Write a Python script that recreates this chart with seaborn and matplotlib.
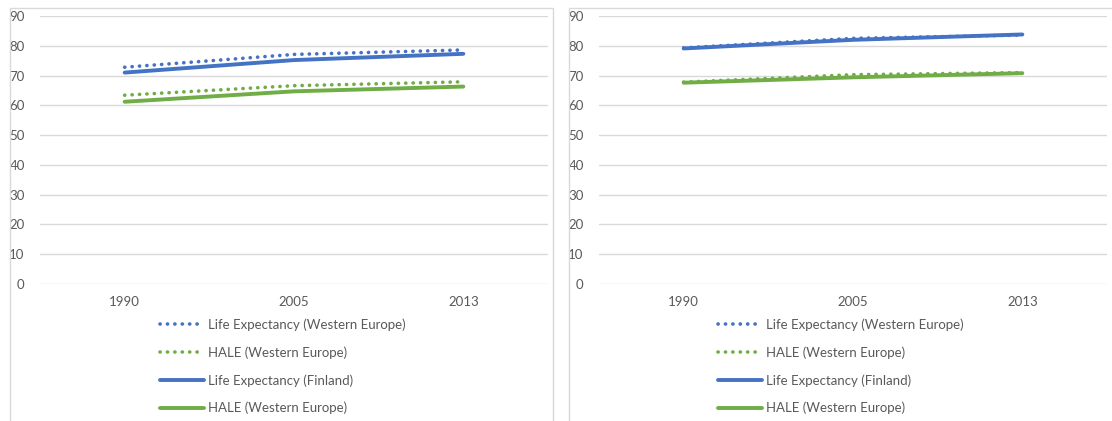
import matplotlib
matplotlib.use("Agg")
import matplotlib.pyplot as plt
from matplotlib.patches import Rectangle
from matplotlib.lines import Line2D
import pandas as pd
import seaborn as sns

# Data
years = ["1990", "2005", "2013"]
series_names = [
    "Life Expectancy (Western Europe)",
    "HALE (Western Europe)",
    "Life Expectancy (Finland)",
    "HALE (Western Europe)",
]
# Left panel
left_le_we = [72.8, 77.1, 78.6]
left_hale_we_dotted = [63.4, 66.6, 67.9]
left_le_fin = [71.0, 75.2, 77.3]
left_hale_solid = [61.2, 64.7, 66.3]
# Right panel
right_le_we = [79.3, 82.5, 83.6]
right_hale_we_dotted = [67.8, 70.3, 71.0]
right_le_fin = [79.1, 82.0, 83.8]
right_hale_solid = [67.6, 69.4, 70.8]

y_ticks = [0, 10, 20, 30, 40, 50, 60, 70, 80, 90]

BLUE = "#4472C4"
GREEN = "#70AD47"
GRID = "#D9D9D9"
TEXT = "#595959"

sns.set_theme(style="white")
plt.rcParams["font.family"] = ["Lato", "DejaVu Sans"]
plt.rcParams["font.size"] = 9

W, H = 1112, 421
fig = plt.figure(figsize=(W / 100, H / 100), dpi=100)

dot_style = (0, (0.05, 2.0))
styles = [
    dict(color=BLUE, ls=dot_style, lw=2.6),
    dict(color=GREEN, ls=dot_style, lw=2.6),
    dict(color=BLUE, ls="-", lw=2.8),
    dict(color=GREEN, ls="-", lw=2.8),
]


def px_box(x0, y0, x1, y1):
    return [x0 / W, 1 - y1 / H, (x1 - x0) / W, (y1 - y0) / H]


def draw_panel(frame, axbox, legend_xy, values):
    # panel frame
    fx0, fy0, fx1, fy1 = frame
    fig.patches.append(Rectangle((fx0 / W, 1 - fy1 / H), (fx1 - fx0) / W, (fy1 - fy0) / H,
                                 transform=fig.transFigure, fill=False,
                                 edgecolor=GRID, lw=1.0, zorder=0))
    ax = fig.add_axes(px_box(*axbox))
    for name, vals, st in zip(series_names, values, styles):
        df = pd.DataFrame({"year": years, "value": vals})
        sns.lineplot(data=df, x="year", y="value", ax=ax, color=st["color"],
                     linewidth=st["lw"], linestyle=st["ls"],
                     solid_capstyle="round", dash_capstyle="round", legend=False)
    ax.set_xlim(-0.5, 2.5)
    ax.set_ylim(0, 90)
    ax.set_yticks(y_ticks)
    ax.set_xlabel("")
    ax.set_ylabel("")
    ax.grid(axis="y", color=GRID, lw=1.0)
    ax.set_axisbelow(True)
    for s in ax.spines.values():
        s.set_visible(False)
    ax.tick_params(axis="both", length=0, labelcolor=TEXT, labelsize=9.5)
    ax.tick_params(axis="y", pad=11)
    ax.tick_params(axis="x", pad=9)
    ax.patch.set_alpha(0)

    handles = [Line2D([], [], color=st["color"], lw=st["lw"], ls=st["ls"],
                      solid_capstyle="round", dash_capstyle="round") for st in styles]
    fig.legend(handles, series_names, loc="upper left",
               bbox_to_anchor=(legend_xy[0] / W, 1 - legend_xy[1] / H),
               frameon=False, borderpad=0, borderaxespad=0,
               handlelength=3.3, handletextpad=0.3, labelspacing=1.17,
               fontsize=9.5, labelcolor=TEXT)


draw_panel((10, 8, 553, 440), (40, 16, 548, 284), (160, 318),
           [left_le_we, left_hale_we_dotted, left_le_fin, left_hale_solid])
draw_panel((569, 8, 1130, 440), (599, 16, 1107, 284), (718, 318),
           [right_le_we, right_hale_we_dotted, right_le_fin, right_hale_solid])

fig.savefig("out.png", dpi=100, facecolor="white")
